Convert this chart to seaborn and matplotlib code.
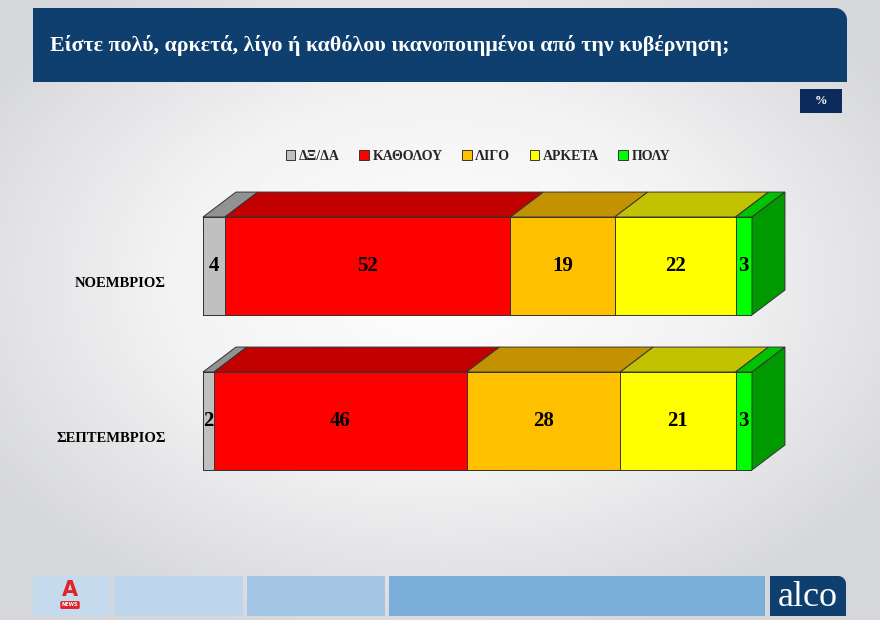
import numpy as np
import pandas as pd
import matplotlib
matplotlib.use("Agg")
import matplotlib.pyplot as plt
from matplotlib.patches import Rectangle, Polygon, Patch
import matplotlib.transforms as mtransforms
import seaborn as sns

sns.set_theme(style="white")
plt.rcParams['font.family'] = ['Liberation Serif', 'DejaVu Serif']

# --- Data ---
months = ['ΝΟΕΜΒΡΙΟΣ', 'ΣΕΠΤΕΜΒΡΙΟΣ']
answers = ['ΔΞ/ΔΑ', 'ΚΑΘΟΛΟΥ', 'ΛΙΓΟ', 'ΑΡΚΕΤΑ', 'ΠΟΛΥ']
dk_na = [4, 2]
not_at_all = [52, 46]
a_little = [19, 28]
quite = [22, 21]
very = [3, 3]
title = "Είστε πολύ, αρκετά, λίγο ή καθόλου ικανοποιημένοι από την κυβέρνηση;"

colors = {
    'ΔΞ/ΔΑ': '#c0c0c0',
    'ΚΑΘΟΛΟΥ': '#ff0000',
    'ΛΙΓΟ': '#ffc000',
    'ΑΡΚΕΤΑ': '#ffff00',
    'ΠΟΛΥ': '#00ff00',
}

df = pd.DataFrame({'month': months, 'ΔΞ/ΔΑ': dk_na, 'ΚΑΘΟΛΟΥ': not_at_all,
                   'ΛΙΓΟ': a_little, 'ΑΡΚΕΤΑ': quite, 'ΠΟΛΥ': very})
cum = df[answers].cumsum(axis=1)

W, H = 880, 620
fig = plt.figure(figsize=(W / 100, H / 100), dpi=100)

# --- background / frame (pixel coords) ---
bg = fig.add_axes([0, 0, 1, 1], zorder=0)
bg.set_xlim(0, W)
bg.set_ylim(H, 0)
bg.axis('off')
yy, xx = np.mgrid[0:H:4, 0:W:4]
r = np.sqrt(((xx - W / 2) / (W * 0.62)) ** 2 + ((yy - H * 0.45) / (H * 0.6)) ** 2)
bg.imshow(np.clip(r, 0, 1), cmap=matplotlib.colors.LinearSegmentedColormap.from_list(
    'bg', ['#ffffff', '#f3f3f4', '#d6d7da']), extent=(0, W, H, 0), aspect='auto', zorder=0)


def round_tr_box(x0, y0, x1, y1, rad, color):
    t = np.linspace(0, np.pi / 2, 20)
    arc = np.column_stack([x1 - rad + rad * np.sin(t), y0 + rad - rad * np.cos(t)])
    pts = np.vstack([[x0, y1], [x0, y0], arc, [x1, y1]])
    bg.add_patch(Polygon(pts, closed=True, facecolor=color, edgecolor='none', zorder=2))


round_tr_box(33, 8, 847, 82, 12, '#0e3f6e')
bg.text(50, 45, title, color='white', fontsize=15.8, fontweight='bold', va='center', ha='left', zorder=3)

bg.add_patch(Rectangle((800, 89), 42, 24, facecolor='#0d2a5c', edgecolor='none', zorder=2))
bg.text(821, 101, '%', color='white', fontsize=9, fontweight='bold', ha='center', va='center', zorder=3)

# footer
for (x0, x1, c) in [(33, 110, '#c6daee'), (114, 243, '#bed6eb'), (247, 385, '#a5c7e5'), (389, 765, '#7aadd7')]:
    bg.add_patch(Rectangle((x0, 576), x1 - x0, 40, facecolor=c, edgecolor='none', zorder=2))
round_tr_box(770, 576, 846, 616, 8, '#0e3f6e')
bg.text(808, 597, 'alco', color='white', fontsize=26, ha='center', va='center', zorder=3)
bg.text(70, 590, 'A', color='#e0242b', fontsize=15, fontweight='bold', ha='center', va='center', zorder=3,
        family='DejaVu Sans')
bg.text(70, 605, 'NEWS', color='white', fontsize=3.5, fontweight='bold', ha='center', va='center', zorder=3,
        family='DejaVu Sans', bbox=dict(boxstyle='round,pad=0.3', fc='#e0242b', ec='none'))

# --- main bars ---
ax = fig.add_axes([203 / W, (H - 498.5) / H, 549 / W, 310 / H], zorder=1)
ax.patch.set_alpha(0)
bar_w = 0.632
for a in reversed(answers):
    sns.barplot(x=cum[a], y=df['month'], orient='h', color=colors[a], saturation=1,
                width=bar_w, edgecolor='#333333', linewidth=0.7, ax=ax)
ax.set_xlim(0, 100)
ax.set_ylim(1.5, -0.5)
ax.axis('off')

dx, dy = 6.0, 0.161
h = bar_w / 2


def shade(c, f):
    rgb = np.array(matplotlib.colors.to_rgb(c))
    return tuple(rgb * f)


for i, m in enumerate(months):
    for a in answers:
        right = cum.loc[i, a]
        left = right - df.loc[i, a]
        top = [(left, i - h), (right, i - h), (right + dx, i - h - dy), (left + dx, i - h - dy)]
        ax.add_patch(Polygon(top, closed=True, facecolor=shade(colors[a], 0.76), edgecolor='#333333',
                             linewidth=0.7, clip_on=False, zorder=3))
        ax.text((left + right) / 2, i, str(df.loc[i, a]), ha='center', va='center',
                fontsize=15, fontweight='bold', color='black', zorder=5)
    end = cum.loc[i, answers[-1]]
    side = [(end, i - h), (end, i + h), (end + dx, i + h - dy), (end + dx, i - h - dy)]
    ax.add_patch(Polygon(side, closed=True, facecolor=shade(colors[answers[-1]], 0.6), edgecolor='#333333',
                         linewidth=0.7, clip_on=False, zorder=3))

# category labels
trans = mtransforms.blended_transform_factory(fig.transFigure, ax.transData)
for i, m in enumerate(months):
    ax.text(166 / W, i + 0.11, m, transform=trans, ha='right', va='center',
            fontsize=10.5, fontweight='bold', color='black')

# legend
handles = [Patch(facecolor=colors[a], edgecolor='#333333', linewidth=0.7) for a in answers]
fig.legend(handles, answers, ncol=5, loc='center', bbox_to_anchor=(478 / W, 1 - 156 / H),
           frameon=False, handlelength=0.7, handleheight=0.7, handletextpad=0.25,
           columnspacing=1.4, prop={'family': 'Liberation Serif', 'weight': 'bold', 'size': 10})

fig.savefig('out.png', dpi=100)
